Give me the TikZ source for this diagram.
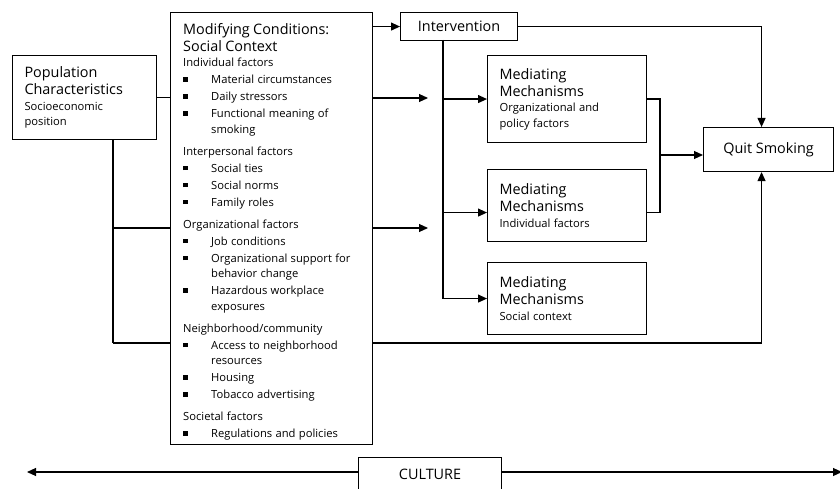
\documentclass[tikz,border=0pt]{standalone}
\usepackage{fontspec}
\setmainfont{Open Sans}
\usetikzlibrary{arrows.meta,positioning}
\tikzset{>={Triangle[width=8pt,length=9pt]}}
\tikzset{
  box/.style={draw, line width=1.1pt, fill=white, inner ysep=0pt, inner xsep=12pt, align=left},
  link/.style={line width=1.1pt},
}
\newcommand{\titlef}{\fontsize{14.4}{17}\selectfont}
\newcommand{\smallf}{\fontsize{11.2}{15.5}\selectfont}
\newcommand{\itm}[1]{\par\vspace{1.5pt}\hangindent=28pt\hangafter=1\noindent\makebox[28pt][l]{\raisebox{2pt}{\rule{4.5pt}{4.5pt}}}#1}
\newcommand{\grp}[1]{\par\vspace{6.5pt}\noindent #1}

\begin{document}
\begin{tikzpicture}[x=1pt,y=-1pt]
	\useasboundingbox (0,0) rectangle (840,489);
	% boxes
	\node[box, anchor=north west, text width=120pt, minimum height=84pt] (pop) at (12,55)
		{{\titlef Population\\Characteristics\par}{\smallf Socioeconomic\\position\par}};
	\node[box, anchor=north west, minimum width=202pt, minimum height=432pt, inner sep=0pt] (mod) at (170,12) {};
	\node[anchor=north west, inner sep=0pt, text width=185pt, align=left] (modtxt) at (183,23) {%
		{\titlef Modifying Conditions:\\Social Context\par}
		\smallf\noindent Individual factors
		\itm{Material circumstances}
		\itm{Daily stressors}
		\itm{Functional meaning of\newline smoking}
		\grp{Interpersonal factors}
		\itm{Social ties}
		\itm{Social norms}
		\itm{Family roles}
		\grp{Organizational factors}
		\itm{Job conditions}
		\itm{Organizational support for\newline behavior change}
		\itm{Hazardous workplace\newline exposures}
		\grp{Neighborhood/community}
		\itm{Access to neighborhood\newline resources}
		\itm{Housing}
		\itm{Tobacco advertising}
		\grp{Societal factors}
		\itm{Regulations and policies}\par};
	\node[box, anchor=north west, minimum width=117pt, minimum height=28pt, inner xsep=0pt, align=center] (interv) at (400,12) {\titlef Intervention};
	\node[box, anchor=north west, text width=135pt, minimum height=87pt] (med1) at (487,55)
		{{\titlef Mediating\\Mechanisms\par}{\smallf Organizational and\\policy factors\par}};
	\node[box, anchor=north west, text width=135pt, minimum height=72pt] (med2) at (487,169)
		{{\titlef Mediating\\Mechanisms\par}{\smallf Individual factors\par}};
	\node[box, anchor=north west, text width=135pt, minimum height=72pt] (med3) at (487,262)
		{{\titlef Mediating\\Mechanisms\par}{\smallf Social context\par}};
	\node[box, anchor=north west, minimum width=130pt, minimum height=44pt, inner xsep=0pt, align=center] (quit) at (703,127) {\titlef Quit Smoking};
	\node[box, anchor=north west, minimum width=143pt, minimum height=34pt, inner xsep=0pt, text depth=0pt, align=center] (culture) at (358,457) {\titlef CULTURE};

	% population links
	\coordinate (tap) at ([xshift=101pt]pop.south west);
	\coordinate (mid) at (113,228);
	\coordinate (low) at (113,343);
	\draw[link] (pop.east) -- (pop.east -| mod.west);
	\draw[link] (tap) -- (low);
	\draw[link] (mid) -- (mid -| mod.west);
	\draw[link] (low) -- (low -| mod.west);
	\draw[link,->] (low -| mod.east) -| ([xshift=-7pt]quit.south);

	% social context links
	\coordinate (f1) at (428,98);
	\coordinate (f2) at (428,228);
	\draw[link,->] (interv.west -| mod.east) -- (interv.west);
	\draw[link,->] (f1 -| mod.east) -- (f1);
	\draw[link,->] (f2 -| mod.east) -- (f2);

	% intervention links
	\coordinate (ibar) at (443,40);
	\coordinate (m2in) at ([yshift=-7pt]med2.west);
	\coordinate (m2out) at ([yshift=-7pt]med2.east);
	\draw[link,->] (ibar) |- (med3.west);
	\draw[link,->] (ibar |- med1.west) -- (med1.west);
	\draw[link,->] (ibar |- m2in) -- (m2in);
	\draw[link,->] (interv.east) -| ([xshift=-7pt]quit.north);

	% mediating links
	\coordinate (join) at (660,155);
	\draw[link] (med1.east) -| (join |- m2out) -- (m2out);
	\draw[link,->] (join) -- (join -| quit.west);

	% culture
	\coordinate (cl) at (27,472);
	\coordinate (cr) at (842,472);
	\draw[link,->] (culture.west |- cl) -- (cl);
	\draw[link,->] (culture.east |- cr) -- (cr);
\end{tikzpicture}
\end{document}
